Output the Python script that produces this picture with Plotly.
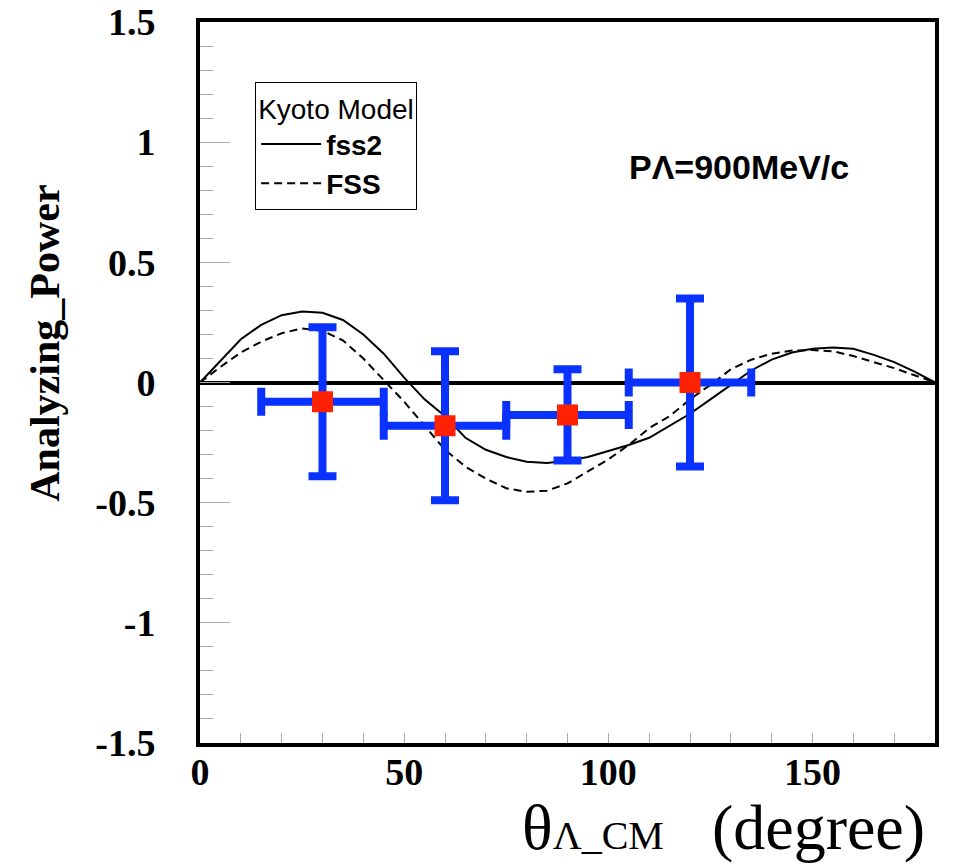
import plotly.graph_objects as go

# ---- data ----
theta_curve = [0, 5, 10, 15, 20, 25, 30, 35, 40, 45, 50, 55, 60, 65, 70, 75, 80, 85, 90,
               95, 100, 105, 110, 115, 120, 125, 130, 135, 140, 145, 150, 155, 160, 165,
               170, 175, 180]
fss2 = [0, 0.09, 0.18, 0.24, 0.28, 0.295, 0.29, 0.26, 0.2, 0.12, 0.02, -0.07, -0.14,
        -0.23, -0.28, -0.31, -0.33, -0.335, -0.325, -0.31, -0.285, -0.26, -0.23, -0.18,
        -0.13, -0.07, -0.01, 0.05, 0.095, 0.125, 0.14, 0.146, 0.14, 0.115, 0.085, 0.045, 0]
fss = [0, 0.065, 0.125, 0.17, 0.205, 0.225, 0.215, 0.175, 0.1, 0.01, -0.08, -0.18, -0.28,
       -0.35, -0.4, -0.44, -0.455, -0.45, -0.42, -0.37, -0.32, -0.26, -0.19, -0.14, -0.07,
       -0.01, 0.055, 0.095, 0.12, 0.133, 0.135, 0.13, 0.11, 0.085, 0.06, 0.03, 0]

theta_data = [30, 60, 90, 120]
ap_data = [-0.08, -0.18, -0.135, 0.0]
ap_err = [0.31, 0.31, 0.19, 0.35]
theta_err = [15, 15, 15, 15]

y_tick_vals = [1.5, 1, 0.5, 0, -0.5, -1, -1.5]
y_tick_labels = ["1.5", "1", "0.5", "0", "-0.5", "-1", "-1.5"]
x_tick_vals = [0, 50, 100, 150]
x_tick_labels = ["0", "50", "100", "150"]

SERIF = "Liberation Serif, Times New Roman, serif"
SANS = "Liberation Sans, Arial, sans-serif"

fig = go.Figure()
fig.add_trace(go.Scatter(x=theta_curve, y=fss2, mode="lines", name="<b>fss2</b>",
                         line=dict(color="black", width=2)))
fig.add_trace(go.Scatter(x=theta_curve, y=fss, mode="lines", name="<b>FSS</b>",
                         line=dict(color="black", width=2, dash="8px,5px")))
fig.add_trace(go.Scatter(
    x=theta_data, y=ap_data, mode="markers", showlegend=False,
    marker=dict(symbol="square", size=21, color="#ff2200"),
    error_y=dict(type="data", array=ap_err, color="#0a32ff", thickness=8, width=14),
    error_x=dict(type="data", array=theta_err, color="#0a32ff", thickness=8, width=14),
))

fig.update_layout(
    width=963, height=866,
    margin=dict(l=200, r=28, t=22, b=123, autoexpand=False),
    paper_bgcolor="white", plot_bgcolor="white",
    showlegend=True,
    legend=dict(
        x=0.075, y=0.917, xanchor="left", yanchor="top",
        bgcolor="white", bordercolor="black", borderwidth=1,
        title=dict(text="Kyoto Model", font=dict(family=SANS, size=28, color="black")),
        font=dict(family=SANS, size=28, color="black"),
        tracegroupgap=0, itemwidth=60,
    ),
    annotations=[
        dict(text="<b>PΛ=900MeV/c</b>", x=0.733, y=0.799, xref="paper", yref="paper",
             xanchor="center", yanchor="middle",
             showarrow=False, font=dict(family=SANS, size=34, color="black")),
        dict(text="<b>Analyzing_Power</b>", x=-0.211, y=0.555, xref="paper", yref="paper",
             xanchor="center", yanchor="middle",
             textangle=-90, showarrow=False, font=dict(family=SERIF, size=42, color="black")),
        dict(text="θ<span style='font-size:40px'>Λ_CM</span>   (degree)",
             x=0.712, y=-0.117, xref="paper", yref="paper", showarrow=False,
             xanchor="center", yanchor="middle",
             font=dict(family=SERIF, size=64, color="black")),
    ],
)

fig.update_xaxes(
    range=[0, 180], showgrid=False, zeroline=False, automargin=False,
    showline=True, linecolor="black", linewidth=4, mirror=True,
    ticks="inside", ticklen=10, tickcolor="#aaaaaa", tickwidth=1,
    tickvals=x_tick_vals, ticktext=x_tick_labels,
    minor=dict(dtick=10, ticks="inside", ticklen=10, tickcolor="#aaaaaa", tickwidth=1),
    tickfont=dict(family=SERIF, size=38, color="black", weight="bold"),
    ticklabelstandoff=-8,
)
fig.update_yaxes(
    range=[-1.5, 1.5], showgrid=False, automargin=False,
    zeroline=True, zerolinecolor="black", zerolinewidth=4,
    showline=True, linecolor="black", linewidth=4, mirror=True,
    ticks="inside", ticklen=30, tickcolor="#aaaaaa", tickwidth=1,
    tickvals=y_tick_vals, ticktext=y_tick_labels,
    minor=dict(dtick=0.1, ticks="inside", ticklen=13, tickcolor="#aaaaaa", tickwidth=1),
    tickfont=dict(family=SERIF, size=38, color="black", weight="bold"),
    ticklabelstandoff=33,
)

fig.write_html("out.html")
